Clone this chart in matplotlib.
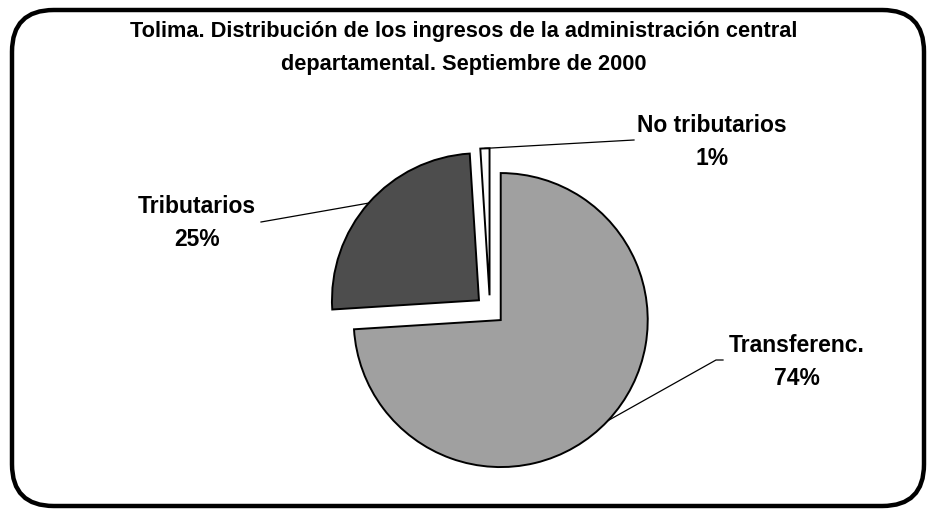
import numpy as np
import matplotlib
matplotlib.use("Agg")
import matplotlib.pyplot as plt
from matplotlib.patches import FancyBboxPatch

# datos
categorias = ["Transferenc.", "Tributarios", "No tributarios"]
valores = [74, 25, 1]
colores = ["#A0A0A0", "#4D4D4D", "#FAFAFA"]
titulo = "Tolima. Distribución de los ingresos de la administración central\ndepartamental. Septiembre de 2000"

W, H = 927, 510
plt.rcParams['font.family'] = ['Liberation Sans', 'DejaVu Sans']

fig = plt.figure(figsize=(W / 100, H / 100), dpi=100)
ax = fig.add_axes([0, 0, 1, 1])

cx, cy, R = 490, H - 311, 147
# explode en matplotlib va en unidades de datos -> fraccion * radio
wedges, _ = ax.pie(valores, colors=colores, startangle=90, counterclock=False,
                   explode=[0.1 * R] * 3, radius=R, center=(cx, cy),
                   wedgeprops=dict(edgecolor='black', linewidth=1.4))
ax.set_xlim(0, W)
ax.set_ylim(0, H)
ax.set_aspect('equal')
ax.axis('off')

# posiciones de las etiquetas (px imagen) y extremo de la linea guia
etq_pos = [(797, 362), (197, 223), (712, 142)]
guia_fin = [[(716, 361), (723, 361)], [(261, 223)], [(634, 141)]]

for w, cat, v, (tx, ty), fin in zip(wedges, categorias, valores, etq_pos, guia_fin):
    ang = np.deg2rad((w.theta1 + w.theta2) / 2)
    x0 = w.center[0] + w.r * np.cos(ang)
    y0 = w.center[1] + w.r * np.sin(ang)
    xs = [x0] + [p[0] for p in fin]
    ys = [y0] + [H - p[1] for p in fin]
    ax.plot(xs, ys, color='black', linewidth=0.9)
    ax.text(tx, H - ty, f"{cat}\n{v}%", ha='center', va='center',
            fontsize=16.5, fontweight='bold', linespacing=1.55)

fig.text(0.5, 1 - 48 / H, titulo, ha='center', va='center',
         fontsize=15.7, fontweight='bold', linespacing=1.75)

# borde redondeado
borde = FancyBboxPatch((12 / W, 3 / H), 912 / W, (H - 14) / H,
                       boxstyle="round,pad=0,rounding_size=0.045",
                       transform=fig.transFigure, fill=False,
                       edgecolor='black', linewidth=3.2, mutation_aspect=W / H)
fig.patches.append(borde)

fig.savefig("out.png", dpi=100)
